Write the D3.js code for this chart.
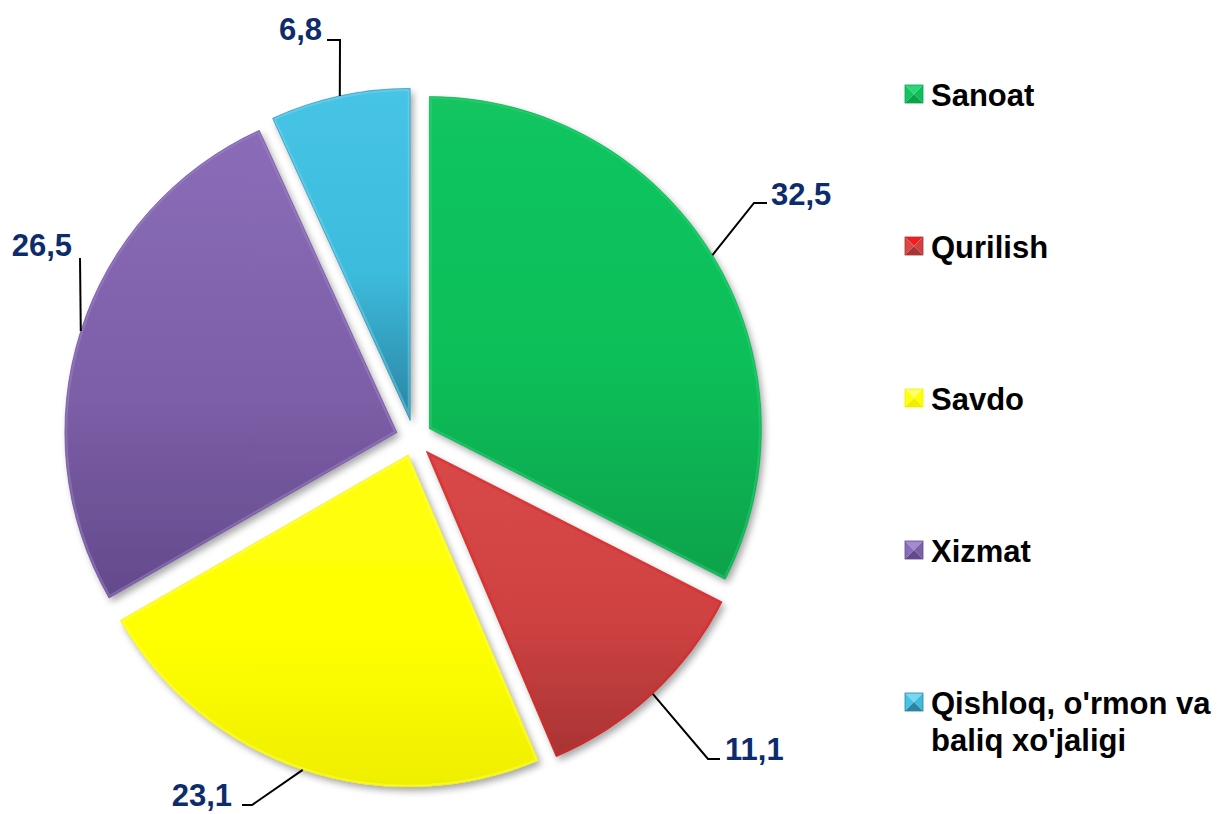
<!DOCTYPE html>
<html>
<head>
<meta charset="utf-8">
<script src="https://cdn.jsdelivr.net/npm/d3@7"></script>
<style>
  html, body { margin: 0; padding: 0; background: #ffffff; }
  svg { display: block; }
</style>
</head>
<body>
<svg id="chart" width="1222" height="814"></svg>
<script>
// ---- data ----
const categories = ["Sanoat", "Qurilish", "Savdo", "Xizmat", "Qishloq, o'rmon va baliq xo'jaligi"];
const values = [32.5, 11.1, 23.1, 26.5, 6.8];
const valueLabels = ["32,5", "11,1", "23,1", "26,5", "6,8"];
const legendLines = [["Sanoat"], ["Qurilish"], ["Savdo"], ["Xizmat"], ["Qishloq, o'rmon va", "baliq xo'jaligi"]];

// ---- styles / layout ----
const colors = [
  { base: "#0cbf58", light: "#12c55f", dark: "#0aa24b", edge: "#2bd67a" },
  { base: "#cf4242", light: "#d94848", dark: "#a83434", edge: "#f01e1e" },
  { base: "#ffff00", light: "#ffff10", dark: "#eeee00", edge: "#ffff66" },
  { base: "#7d5fa8", light: "#8a6cb8", dark: "#634a8c", edge: "#a68ad0" },
  { base: "#3dbcdd", light: "#46c4e6", dark: "#2a84a2", edge: "#7ad8f0" }
];
const cx = 414, cy = 438, R = 332, explode = 18;
const labelColor = "#0d2c6c";
const fontFamily = "'Liberation Sans', Arial, Helvetica, sans-serif";
const fontSize = 31;
// text position + leader path (from label side) for each value label
const labelLayout = [
  { x: 771, y: 205, anchor: "start", leader: [[767, 203], [754, 203]] },
  { x: 725, y: 760, anchor: "start", leader: [[720, 759], [708, 759]] },
  { x: 232, y: 806, anchor: "end",   leader: [[242, 805], [252, 805]] },
  { x: 72,  y: 256, anchor: "end",   leader: [[80, 258]] },
  { x: 322, y: 40,  anchor: "end",   leader: [[327, 40], [340, 40]] }
];
const legendX = 905, legendTop = 85, legendStep = 152, markerSize = 18, legendTextX = 931;

const svg = d3.select("#chart");
const defs = svg.append("defs");

// drop shadow
const sh = defs.append("filter").attr("id", "shadow")
  .attr("x", "-20%").attr("y", "-20%").attr("width", "140%").attr("height", "140%");
sh.append("feDropShadow").attr("dx", 3).attr("dy", 4).attr("stdDeviation", 3.5)
  .attr("flood-color", "#000").attr("flood-opacity", 0.35);

colors.forEach((c, i) => {
  const g = defs.append("linearGradient").attr("id", "grad" + i)
    .attr("x1", 0).attr("y1", 0).attr("x2", 0).attr("y2", 1);
  g.append("stop").attr("offset", "0%").attr("stop-color", c.light);
  g.append("stop").attr("offset", "55%").attr("stop-color", c.base);
  g.append("stop").attr("offset", "100%").attr("stop-color", c.dark);
});

const pie = d3.pie().sort(null).value(d => d);
const arcs = pie(values);
const arc = d3.arc().innerRadius(0).outerRadius(R);

const pieG = svg.append("g").attr("transform", `translate(${cx},${cy})`);

arcs.forEach((a, i) => {
  const mid = (a.startAngle + a.endAngle) / 2;
  const ox = Math.sin(mid) * explode, oy = -Math.cos(mid) * explode;
  const g = pieG.append("g").attr("transform", `translate(${ox},${oy})`);
  const d = arc(a);
  defs.append("clipPath").attr("id", "clip" + i).append("path").attr("d", d);
  g.append("path").attr("d", d).attr("fill", `url(#grad${i})`).attr("filter", "url(#shadow)");
  // bevel: inner light edge
  g.append("path").attr("d", d).attr("fill", "none")
    .attr("stroke", colors[i].edge).attr("stroke-width", 5).attr("stroke-opacity", 0.45)
    .attr("clip-path", `url(#clip${i})`);
  g.append("path").attr("d", d).attr("fill", "none")
    .attr("stroke", colors[i].dark).attr("stroke-width", 1).attr("stroke-opacity", 0.6);
});

// value labels with leader lines
const outer = R + explode;
arcs.forEach((a, i) => {
  const mid = (a.startAngle + a.endAngle) / 2;
  const px = cx + Math.sin(mid) * outer, py = cy - Math.cos(mid) * outer;
  const L = labelLayout[i];
  const pts = L.leader.concat([[px, py]]);
  svg.append("path")
    .attr("d", d3.line()(pts))
    .attr("fill", "none").attr("stroke", "#000").attr("stroke-width", 2);
  svg.append("text")
    .attr("x", L.x).attr("y", L.y)
    .attr("text-anchor", L.anchor)
    .attr("font-family", fontFamily).attr("font-weight", "bold")
    .attr("font-size", fontSize).attr("fill", labelColor)
    .text(valueLabels[i]);
});

// legend
const legG = svg.append("g");
categories.forEach((cat, i) => {
  const y0 = legendTop + i * legendStep;
  const s = markerSize, x0 = legendX, c = colors[i];
  const mx = x0 + s / 2, my = y0 + s / 2;
  const tri = (p) => legG.append("path").attr("d", d3.line()(p));
  tri([[x0, y0], [x0 + s, y0], [mx, my]]).attr("fill", c.edge);
  tri([[x0, y0], [x0, y0 + s], [mx, my]]).attr("fill", c.light);
  tri([[x0 + s, y0], [x0 + s, y0 + s], [mx, my]]).attr("fill", c.base);
  tri([[x0, y0 + s], [x0 + s, y0 + s], [mx, my]]).attr("fill", c.dark);
  legG.append("rect").attr("x", x0).attr("y", y0).attr("width", s).attr("height", s)
    .attr("fill", "none").attr("stroke", c.dark).attr("stroke-width", 0.8);
  const t = legG.append("text")
    .attr("x", legendTextX).attr("y", y0 + 21)
    .attr("font-family", fontFamily).attr("font-weight", "bold")
    .attr("font-size", fontSize).attr("fill", "#000");
  legendLines[i].forEach((ln, j) => {
    t.append("tspan").attr("x", legendTextX).attr("dy", j === 0 ? 0 : 37).text(ln);
  });
});
</script>
</body>
</html>
